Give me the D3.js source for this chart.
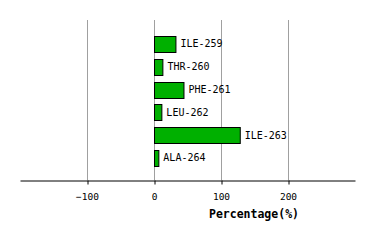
<!DOCTYPE html>
<html><head><meta charset="utf-8">
<script src="https://cdn.jsdelivr.net/npm/d3@7"></script>
<style>body{margin:0;background:#fff;}svg{display:block;}</style>
</head><body>
<script>
const categories = ["ILE-259","THR-260","PHE-261","LEU-262","ILE-263","ALA-264"];
const values = [32, 12.5, 44, 11, 128, 6.5];
const tickValues = [-100, 0, 100, 200];
const axisTitle = "Percentage(%)";

const W = 374, H = 240;
const svg = d3.select("body").append("svg").attr("width", W).attr("height", H);

const x = d3.scaleLinear().domain([-200, 300]).range([20, 355]);
const y = d3.scaleBand().domain(categories).range([32.4, 169.2]).paddingInner(0.32).paddingOuter(0.16);

// gridlines
svg.append("g").selectAll("line").data(tickValues).join("line")
  .attr("x1", d => Math.round(x(d)) + 0.5).attr("x2", d => Math.round(x(d)) + 0.5)
  .attr("y1", 20).attr("y2", 180)
  .attr("stroke", "#a0a0a0").attr("stroke-width", 1);

// bars
svg.append("g").selectAll("rect").data(values).join("rect")
  .attr("x", x(0) + 0.5)
  .attr("y", (d, i) => Math.round(y(categories[i])) + 0.5)
  .attr("width", d => x(d) - x(0))
  .attr("height", Math.round(y.bandwidth()))
  .attr("fill", "#00b000").attr("stroke", "#000").attr("stroke-width", 1);

// labels
svg.append("g").selectAll("text").data(values).join("text")
  .attr("x", d => x(d) + 5)
  .attr("y", (d, i) => y(categories[i]) + y.bandwidth() / 2)
  .attr("dy", "0.36em")
  .attr("font-family", "DejaVu Sans Mono").attr("font-size", "10px")
  .attr("fill", "#000")
  .text((d, i) => categories[i]);

// axis
const axis = d3.axisBottom(x).tickValues(tickValues).tickSize(4).tickSizeOuter(0).tickPadding(9);
const ag = svg.append("g").attr("transform", "translate(0,180.5)").call(axis);
ag.select(".domain").attr("stroke", "#000");
ag.selectAll(".tick line").attr("stroke", "#000").attr("transform", "translate(0.5,0)");
ag.selectAll(".tick text").attr("font-family", "DejaVu Sans Mono").attr("font-size", "9.5px").attr("fill", "#000");

svg.append("text").attr("x", 254).attr("y", 218)
  .attr("text-anchor", "middle")
  .attr("font-family", "DejaVu Sans Mono").attr("font-weight", "bold").attr("font-size", "11.5px")
  .text(axisTitle);
</script>
</body></html>
